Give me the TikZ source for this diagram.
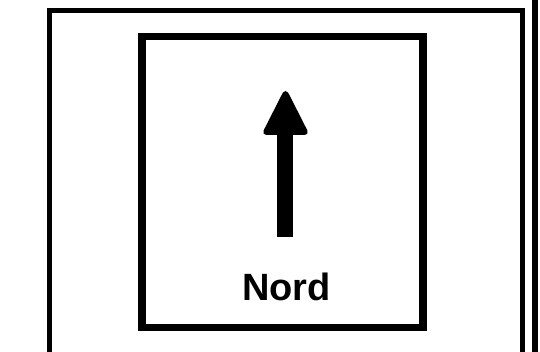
\documentclass[tikz,border=0pt]{standalone}
\usepackage{fontspec}
\setmainfont{Liberation Sans}
\begin{document}
\begin{tikzpicture}[x=1pt,y=-1pt,
  outerline/.style={draw=black,line width=5.2pt},
  innerbox/.style={draw=black,line width=7.8pt},
  shaft/.style={line width=15.5pt},
  arrowhead/.style={fill=black,draw=black,line width=6pt,line join=round},
  label/.style={font=\bfseries\fontsize{38}{40}\selectfont,inner sep=0pt,anchor=base}]
\useasboundingbox (0,0) rectangle (540,352);
\draw[outerline] (49.8,370) -- (49.8,10.7) -- (522.7,10.7) -- (522.7,370);
\draw[outerline] (535,-5) -- (535,370);
\draw[innerbox] (142.2,36.5) rectangle (423,327.5);
\coordinate (tail) at (285,236.7);
\coordinate (base) at (285,128);
\draw[shaft] (tail) -- (base);
\draw[arrowhead] (285.5,94) -- (304.8,132) -- (266.2,132) -- cycle;
\node[label] (nord) at (286.5,300) {Nord};
\end{tikzpicture}
\end{document}
